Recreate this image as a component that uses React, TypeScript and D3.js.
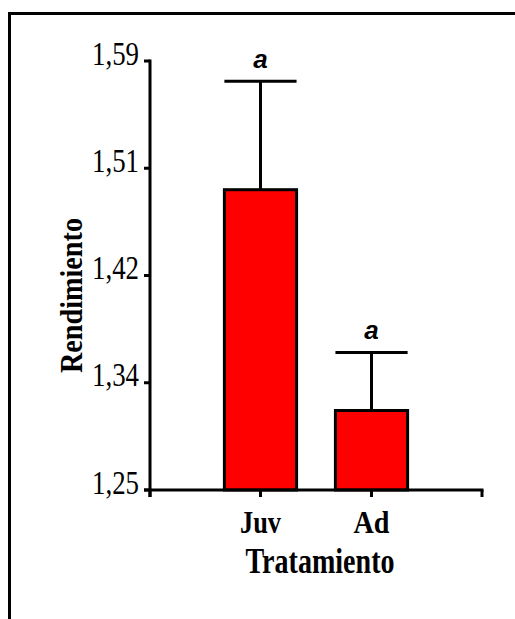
import { useEffect, useRef } from 'react'
import * as d3 from 'd3'

const W = 515, H = 619
const M = { top: 61, right: 33, bottom: 129, left: 150 }

const categories = ['Juv', 'Ad']
const means = [1.488, 1.313]
const errors = [0.086, 0.046]
const letters = ['a', 'a']
const yTicks = [1.25, 1.335, 1.42, 1.505, 1.59]
const yTickLabels = ['1,25', '1,34', '1,42', '1,51', '1,59']

const SERIF = '"Liberation Serif", "Times New Roman", serif'
const SANS = '"Liberation Sans", Arial, sans-serif'

export default function App() {
  const svgRef = useRef<SVGSVGElement>(null)

  useEffect(() => {
    const svg = d3.select(svgRef.current!)
    svg.selectAll('*').remove()

    const x0 = M.left, x1 = W - M.right
    const yBase = H - M.bottom

    const y = d3.scaleLinear().domain([1.25, 1.59]).range([yBase, M.top])
    const x = d3.scaleBand<string>()
      .domain(categories)
      .range([x0, x1])
      .paddingInner(0.35)
      .paddingOuter(0.67)

    // outer frame (runs off the page right and bottom)
    svg.append('path')
      .attr('d', `M9.5,${H + 5} V13.5 H${W + 5}`)
      .attr('fill', 'none').attr('stroke', '#000').attr('stroke-width', 3)

    const g = svg.append('g')

    // bars + error bars
    categories.forEach((c, i) => {
      const bx = x(c)!
      const cx = bx + x.bandwidth() / 2
      const top = y(means[i])
      const errTop = y(means[i] + errors[i])

      g.append('line')
        .attr('x1', cx).attr('x2', cx).attr('y1', top).attr('y2', errTop)
        .attr('stroke', '#000').attr('stroke-width', 3)
      g.append('line')
        .attr('x1', bx).attr('x2', bx + x.bandwidth()).attr('y1', errTop).attr('y2', errTop)
        .attr('stroke', '#000').attr('stroke-width', 3)

      g.append('rect')
        .attr('x', bx).attr('y', top)
        .attr('width', x.bandwidth()).attr('height', yBase - top)
        .attr('fill', '#ff0000').attr('stroke', '#000').attr('stroke-width', 3)

      g.append('text')
        .attr('x', cx).attr('y', errTop - 13)
        .attr('text-anchor', 'middle')
        .attr('font-family', SANS).attr('font-weight', 'bold').attr('font-style', 'italic')
        .attr('font-size', 26)
        .text(letters[i])
    })

    // y axis
    g.append('line')
      .attr('x1', x0).attr('x2', x0).attr('y1', M.top - 1.5).attr('y2', yBase + 7)
      .attr('stroke', '#000').attr('stroke-width', 3)
    yTicks.forEach((t, i) => {
      g.append('line')
        .attr('x1', x0 - 6).attr('x2', x0).attr('y1', y(t)).attr('y2', y(t))
        .attr('stroke', '#000').attr('stroke-width', 3)
      g.append('text')
        .attr('x', x0 - 11).attr('y', y(t) + 3.5)
        .attr('text-anchor', 'end')
        .attr('font-family', SERIF).attr('font-size', 33)
        .attr('textLength', 47).attr('lengthAdjust', 'spacingAndGlyphs')
        .text(yTickLabels[i])
    })

    // x axis
    g.append('line')
      .attr('x1', x0 - 6).attr('x2', x1 + 1.5).attr('y1', yBase).attr('y2', yBase)
      .attr('stroke', '#000').attr('stroke-width', 3)
    const xTickPos = [x0, ...categories.map(c => x(c)! + x.bandwidth() / 2), x1]
    xTickPos.forEach(p => {
      g.append('line')
        .attr('x1', p).attr('x2', p).attr('y1', yBase).attr('y2', yBase + 7)
        .attr('stroke', '#000').attr('stroke-width', 3)
    })
    const catWidth: Record<string, number> = { Juv: 41, Ad: 36 }
    categories.forEach(c => {
      g.append('text')
        .attr('x', x(c)! + x.bandwidth() / 2).attr('y', yBase + 43)
        .attr('text-anchor', 'middle')
        .attr('font-family', SERIF).attr('font-weight', 'bold').attr('font-size', 32)
        .attr('textLength', catWidth[c]).attr('lengthAdjust', 'spacingAndGlyphs')
        .text(c)
    })

    // axis titles
    g.append('text')
      .attr('x', (x0 + x1) / 2 + 4).attr('y', yBase + 83)
      .attr('text-anchor', 'middle')
      .attr('font-family', SERIF).attr('font-weight', 'bold').attr('font-size', 36)
      .attr('textLength', 149).attr('lengthAdjust', 'spacingAndGlyphs')
      .text('Tratamiento')

    g.append('text')
      .attr('transform', `translate(82,${(M.top + yBase) / 2 + 20}) rotate(-90)`)
      .attr('text-anchor', 'middle')
      .attr('font-family', SERIF).attr('font-weight', 'bold').attr('font-size', 31)
      .attr('textLength', 155).attr('lengthAdjust', 'spacingAndGlyphs')
      .text('Rendimiento')
  }, [])

  return (
    <svg ref={svgRef} width={W} height={H}
      style={{ position: 'absolute', left: 0, top: 0, background: '#fff' }}
      viewBox={`0 0 ${W} ${H}`} />
  )
}
